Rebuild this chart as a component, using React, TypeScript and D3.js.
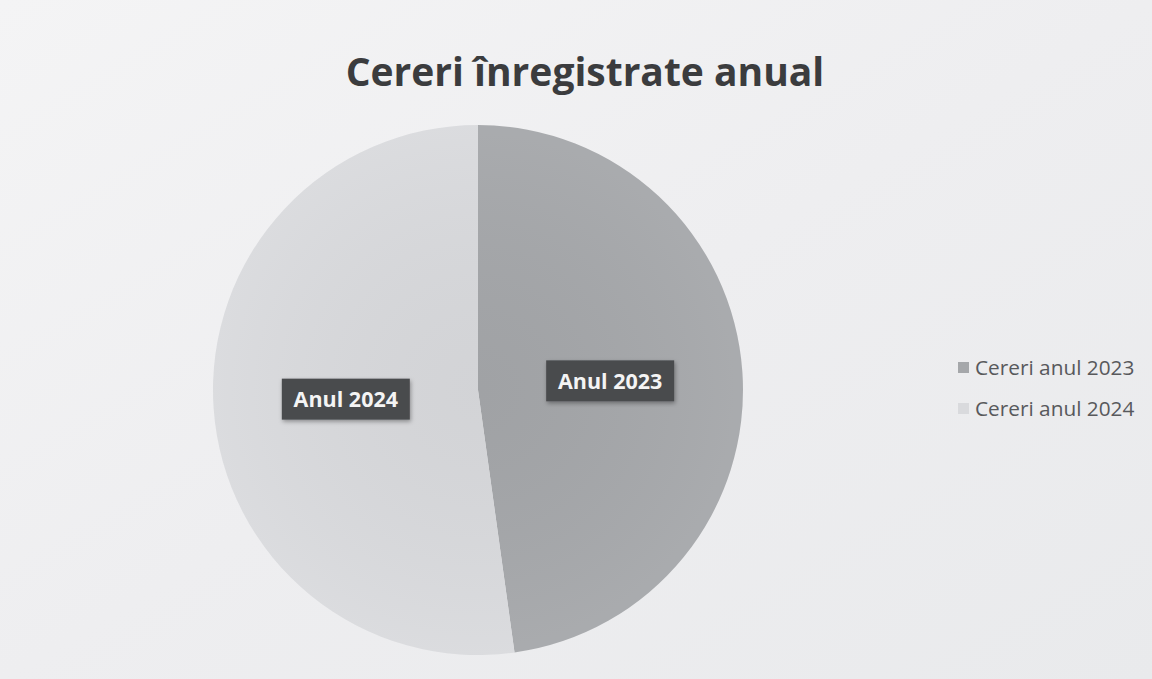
import React from "react";
import * as d3 from "d3";

const categories = ["Cereri anul 2023", "Cereri anul 2024"];
const sliceLabels = ["Anul 2023", "Anul 2024"];
const values = [47.8, 52.2];
const colors = ["#a5a7aa", "#d9dadd"];
const title = "Cereri înregistrate anual";

const W = 1152;
const H = 679;

export default function App() {
  const cx = 478;
  const cy = 390;
  const r = 265;
  const pie = d3.pie<number>().sort(null).value((d) => d);
  const arcs = pie(values);
  const arc = d3.arc<d3.PieArcDatum<number>>().innerRadius(0).outerRadius(r);
  const font = "'Open Sans', 'DejaVu Sans', sans-serif";

  return (
    <svg
      width={W}
      height={H}
      style={{ position: "absolute", left: 0, top: 0, display: "block" }}
    >
      <defs>
        <linearGradient id="bg" x1="0" y1="0" x2="1" y2="1">
          <stop offset="0" stopColor="#f4f4f5" />
          <stop offset="0.5" stopColor="#eeeef0" />
          <stop offset="1" stopColor="#e9eaec" />
        </linearGradient>
        <radialGradient id="shade" cx="0.5" cy="0.5" r="0.5">
          <stop offset="0" stopColor="#000" stopOpacity="0.03" />
          <stop offset="1" stopColor="#fff" stopOpacity="0.05" />
        </radialGradient>
        <filter id="sh" x="-20%" y="-30%" width="140%" height="170%">
          <feDropShadow dx="1" dy="2" stdDeviation="2" floodColor="#000" floodOpacity="0.35" />
        </filter>
      </defs>
      <rect x={0} y={0} width={W} height={H} fill="url(#bg)" />
      <text
        x={585}
        y={86}
        textAnchor="middle"
        fontFamily={font}
        fontWeight={700}
        fontSize={39}
        fill="#3b3c3e"
      >
        {title}
      </text>
      <g transform={`translate(${cx},${cy})`}>
        {arcs.map((a, i) => (
          <path key={i} d={arc(a) || ""} fill={colors[i]} />
        ))}
        <circle r={r} fill="url(#shade)" />
        {arcs.map((a, i) => {
          const [lx, ly] = arc.centroid(a);
          const bw = 128;
          const bh = 41;
          return (
            <g key={"l" + i} transform={`translate(${lx},${ly})`}>
              <rect
                x={-bw / 2}
                y={-bh / 2}
                width={bw}
                height={bh}
                fill="#4a4b4e"
                filter="url(#sh)"
              />
              <text
                x={0}
                y={8}
                textAnchor="middle"
                fontFamily={font}
                fontWeight={700}
                fontSize={21.5}
                fill="#f4f4f4"
              >
                {sliceLabels[i]}
              </text>
            </g>
          );
        })}
      </g>
      {categories.map((c, i) => (
        <g key={"lg" + i} transform={`translate(958,${368 + i * 41})`}>
          <rect x={0} y={-6} width={11} height={11} fill={colors[i]} />
          <text
            x={17}
            y={7}
            fontFamily={font}
            fontSize={20.8}
            fill="#58595c"
          >
            {c}
          </text>
        </g>
      ))}
    </svg>
  );
}
